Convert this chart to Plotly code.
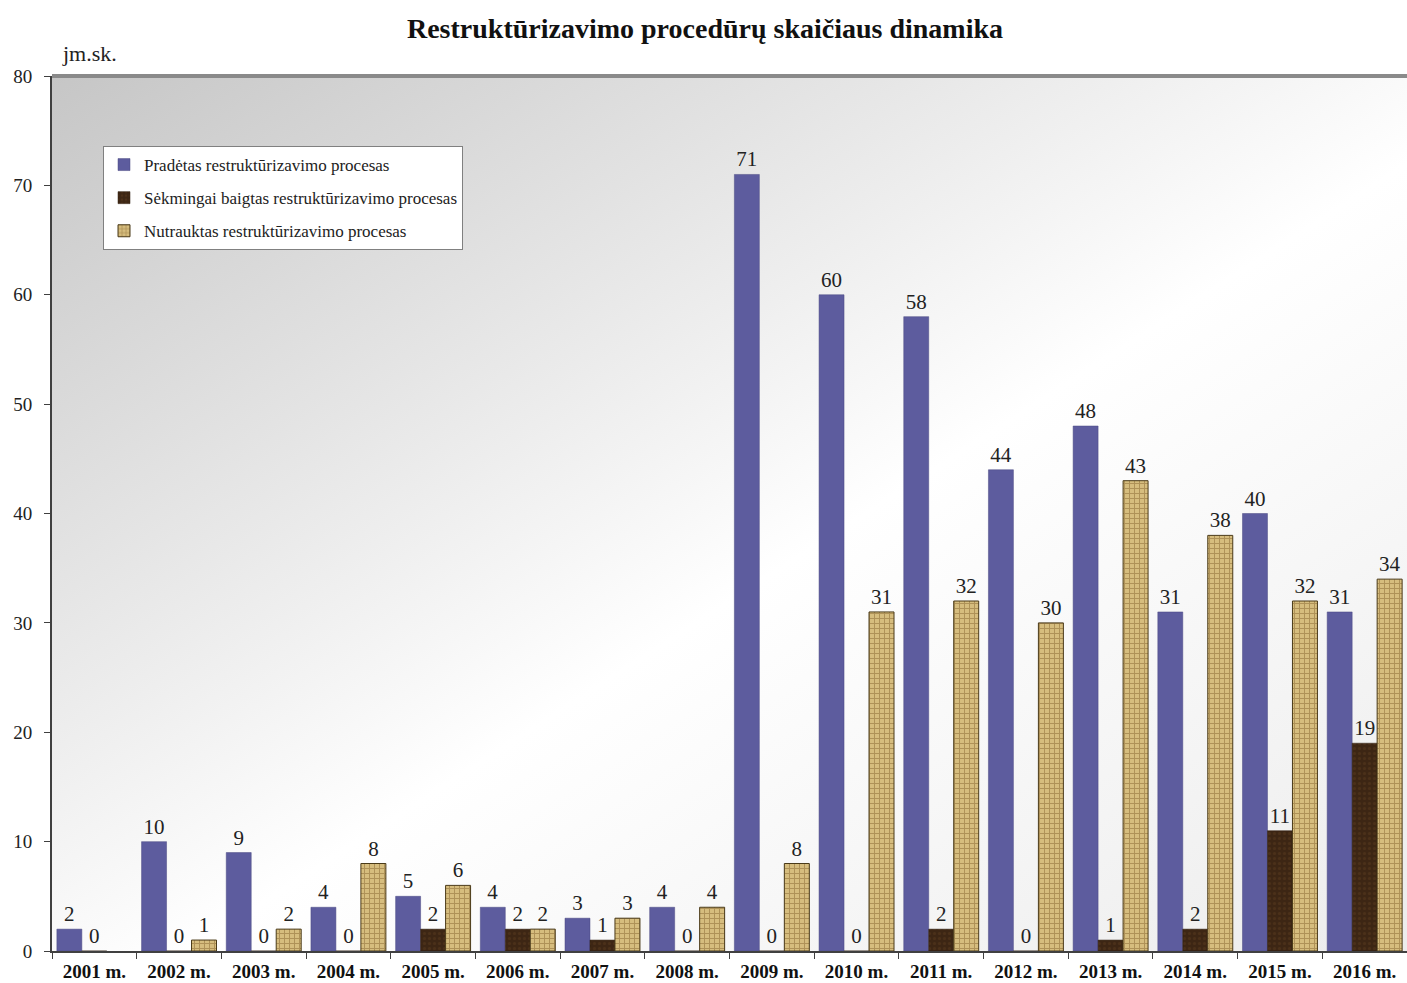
import base64
import plotly.graph_objects as go

years = ["2001 m.", "2002 m.", "2003 m.", "2004 m.", "2005 m.", "2006 m.", "2007 m.", "2008 m.",
         "2009 m.", "2010 m.", "2011 m.", "2012 m.", "2013 m.", "2014 m.", "2015 m.", "2016 m."]
started = [2, 10, 9, 4, 5, 4, 3, 4, 71, 60, 58, 44, 48, 31, 40, 31]
completed = [0, 0, 0, 0, 2, 2, 1, 0, 0, 0, 2, 0, 1, 2, 11, 19]
terminated = [None, 1, 2, 8, 6, 2, 3, 4, 8, 31, 32, 30, 43, 38, 32, 34]

names = ["Pradėtas restruktūrizavimo procesas",
         "Sėkmingai baigtas restruktūrizavimo procesas",
         "Nutrauktas restruktūrizavimo procesas"]

serif = "Liberation Serif, Times New Roman, serif"

svg = """<svg xmlns='http://www.w3.org/2000/svg' width='1355' height='875' viewBox='0 0 1355 875' preserveAspectRatio='none'>
<defs><linearGradient id='g' x1='0' y1='0' x2='1' y2='1'>
<stop offset='0' stop-color='#c6c6c6'/>
<stop offset='0.55' stop-color='#ffffff'/>
<stop offset='1' stop-color='#ececec'/>
</linearGradient></defs>
<rect x='0' y='0' width='1355' height='875' fill='url(#g)'/></svg>"""
bg_uri = "data:image/svg+xml;base64," + base64.b64encode(svg.encode()).decode()

label_font = dict(family=serif, size=21, color="#222222")

fig = go.Figure()

fig.add_trace(go.Bar(
    x=years, y=started, name=names[0], legendgroup="a",
    marker=dict(color="#5d5c9e", line=dict(color="#4a4980", width=0.5)),
    text=[str(v) for v in started], textposition="outside",
    textfont=label_font, cliponaxis=False,
))
fig.add_trace(go.Bar(
    x=years, y=completed, name=names[1], legendgroup="b",
    marker=dict(color="#3d2614", line=dict(color="#2a1a0c", width=0.5),
                pattern=dict(shape=".", fgcolor="#5a3a1e", size=5, solidity=0.3)),
    text=[str(v) for v in completed], textposition="outside",
    textfont=label_font, cliponaxis=False,
))
fig.add_trace(go.Bar(
    x=years, y=terminated, name=names[2], legendgroup="c",
    marker=dict(color="#d6bd7e", line=dict(color="#4a3a18", width=1),
                pattern=dict(shape="+", fgcolor="#866530", bgcolor="#d6bd7e", size=5, solidity=0.35)),
    text=["" if v is None else str(v) for v in terminated], textposition="outside",
    textfont=label_font, cliponaxis=False,
))

fig.update_layout(
    width=1407, height=983,
    margin=dict(l=52, r=0, t=76, b=32),
    paper_bgcolor="white",
    plot_bgcolor="rgba(0,0,0,0)",
    barmode="group", bargap=0.115, bargroupgap=0,
    title=dict(text="<b>Restruktūrizavimo procedūrų skaičiaus dinamika</b>",
               x=705 / 1407, xref="container", y=1 - 28 / 983, yref="container",
               xanchor="center", yanchor="middle",
               font=dict(family=serif, size=28, color="#111111")),
    font=dict(family=serif, color="#222222"),
    showlegend=True,
    legend=dict(x=(103 - 52) / 1355, y=(951 - 146) / 875, xanchor="left", yanchor="top",
                bgcolor="white", bordercolor="#808080", borderwidth=1,
                font=dict(family=serif, size=17, color="#222222"),
                tracegroupgap=8, itemwidth=30),
    images=[dict(source=bg_uri, xref="paper", yref="paper", x=0, y=1, sizex=1, sizey=1,
                 sizing="stretch", layer="below", xanchor="left", yanchor="top")],
    annotations=[dict(text="jm.sk.", xref="paper", yref="paper", x=(60 - 52) / 1355, y=(951 - 53) / 875,
                      xanchor="left", yanchor="middle", showarrow=False,
                      font=dict(family=serif, size=22, color="#222222"))],
    shapes=[dict(type="line", xref="paper", yref="paper", x0=0, x1=1, y0=1, y1=1,
                 line=dict(color="#8a8a8a", width=4))],
)

fig.update_xaxes(
    type="category", tickson="boundaries", ticks="outside", ticklen=6, tickcolor="#404040",
    showline=True, linecolor="#404040", linewidth=2, showgrid=False,
    tickfont=dict(family=serif, size=19, color="#111111"),
    ticklabelstandoff=2, tickprefix="<b>", ticksuffix="</b>",
)
fig.update_yaxes(
    range=[0, 80], dtick=10, ticks="outside", ticklen=6, tickcolor="#404040",
    showline=True, linecolor="#404040", linewidth=2, showgrid=False, zeroline=False,
    tickfont=dict(family=serif, size=19, color="#222222"),
    ticklabelstandoff=8,
)

fig.write_html("out.html", config={"displayModeBar": False},
               post_script="document.body.style.margin='0';document.body.style.overflow='hidden';")
